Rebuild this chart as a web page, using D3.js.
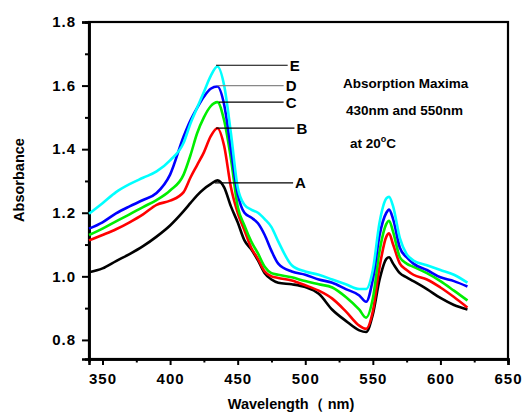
<!DOCTYPE html>
<html><head><meta charset="utf-8">
<script src="https://cdn.jsdelivr.net/npm/d3@7"></script>
<style>
body{margin:0;background:#fff;}
svg text{font-family:Arial,"Liberation Sans",sans-serif;}
</style></head>
<body><svg id="c" width="524" height="414"></svg>
<script>
const wavelengths = [340,350,360,370,380,390,400,410,415,420,425,430,435,440,445,450,455,460,465,470,475,480,490,500,510,520,530,540,545,550,555,560,562,565,570,575,580,590,600,610,620];
const seriesA = [1.013,1.025,1.048,1.07,1.095,1.125,1.16,1.205,1.23,1.255,1.275,1.29,1.302,1.28,1.22,1.17,1.113,1.085,1.05,1.01,0.99,0.98,0.975,0.966,0.945,0.895,0.86,0.83,0.825,0.88,0.99,1.055,1.06,1.04,1.01,0.997,0.985,0.96,0.932,0.91,0.896];
const seriesB = [1.113,1.13,1.148,1.17,1.195,1.225,1.238,1.265,1.31,1.35,1.39,1.44,1.466,1.41,1.28,1.2,1.145,1.09,1.055,1.015,1.0,0.995,0.987,0.972,0.955,0.93,0.89,0.845,0.835,0.89,1.03,1.125,1.135,1.1,1.04,1.02,1.005,0.99,0.965,0.935,0.902];
const seriesC = [1.13,1.15,1.173,1.195,1.218,1.24,1.27,1.32,1.38,1.45,1.5,1.535,1.548,1.49,1.37,1.22,1.16,1.11,1.072,1.03,1.01,1.005,0.997,0.985,0.975,0.965,0.935,0.895,0.87,0.93,1.08,1.165,1.175,1.14,1.06,1.04,1.03,1.01,0.985,0.955,0.924];
const seriesD = [1.15,1.17,1.198,1.22,1.24,1.262,1.32,1.44,1.49,1.53,1.565,1.59,1.597,1.54,1.4,1.26,1.2,1.185,1.167,1.13,1.08,1.04,1.015,1.005,0.99,0.98,0.96,0.94,0.92,0.99,1.13,1.2,1.21,1.18,1.09,1.06,1.04,1.02,0.997,0.985,0.968];
const seriesE = [1.197,1.23,1.265,1.29,1.31,1.33,1.365,1.42,1.48,1.53,1.58,1.63,1.66,1.6,1.45,1.28,1.225,1.21,1.2,1.18,1.155,1.11,1.035,1.015,1.005,0.99,0.975,0.96,0.96,1.02,1.17,1.245,1.25,1.22,1.12,1.07,1.05,1.035,1.02,1.005,0.98];
const seriesNames = ["A","B","C","D","E"];
const seriesColors = ["#000000","#ff0000","#00ee00","#0000ff","#00ffff"];
const xTicks = [350,400,450,500,550,600,650];
const xMinor = [375,425,475,525,575,625];
const yTicks = [0.8,1.0,1.2,1.4,1.6,1.8];
const yMinor = [0.9,1.1,1.3,1.5,1.7];
// label leader ends (wavelength, absorbance) for A..E
const labelW = [433,434,436,435,434];
const labelEndW = [491,492,484,484,487];
const labelY = [1.294,1.466,1.548,1.6,1.664];
const noteLines = ["Absorption Maxima","430nm and 550nm","at 20"];

const svg = d3.select("#c");
const x = d3.scaleLinear().domain([340,650]).range([89,508]);
const y = d3.scaleLinear().domain([0.74,1.8]).range([359,22]);

// frame
svg.append("rect").attr("x",89).attr("y",22).attr("width",419).attr("height",337)
  .attr("fill","none").attr("stroke","#000").attr("stroke-width",2.2);

const gx = svg.append("g").attr("transform","translate(0,359)")
  .call(d3.axisBottom(x).tickValues(xTicks).tickSize(6).tickPadding(8).tickFormat(d3.format("d")));
const gxm = svg.append("g").attr("transform","translate(0,359)")
  .call(d3.axisBottom(x).tickValues(xMinor).tickSize(3.5).tickFormat(""));
const gy = svg.append("g").attr("transform","translate(89,0)")
  .call(d3.axisLeft(y).tickValues(yTicks).tickSize(7).tickPadding(6).tickFormat(d3.format(".1f")));
const gym = svg.append("g").attr("transform","translate(89,0)")
  .call(d3.axisLeft(y).tickValues(yMinor).tickSize(4).tickFormat(""));
[gx,gxm,gy,gym].forEach(g=>{
  g.select(".domain").attr("stroke","#000").attr("stroke-width",2.5);
  g.selectAll(".tick line").attr("stroke","#000").attr("stroke-width",2);
  g.selectAll(".tick text").attr("fill","#000").style("font-size","15px")
   .style("font-weight","bold").style("letter-spacing","1px");
});

// series
const all = [seriesA,seriesB,seriesC,seriesD,seriesE];
const line = d3.line().x(d=>x(d[0])).y(d=>y(d[1])).curve(d3.curveMonotoneX);
all.forEach((s,i)=>{
  svg.append("path").datum(wavelengths.map((w,j)=>[w,s[j]]))
    .attr("fill","none").attr("stroke",seriesColors[i]).attr("stroke-width",2.6)
    .attr("stroke-linejoin","round").attr("d",line);
});

// leader labels
seriesNames.forEach((n,i)=>{
  svg.append("line").attr("x1",x(labelW[i])).attr("x2",x(labelEndW[i]))
    .attr("y1",y(labelY[i])).attr("y2",y(labelY[i]))
    .attr("stroke", n==="D" ? "#888" : "#000").attr("stroke-width",1.2);
  svg.append("text").attr("x",x(labelEndW[i])+2).attr("y",y(labelY[i])+5.5)
    .style("font-size","15px").style("font-weight","bold").text(n);
});

// note
const note = svg.append("g").style("font-size","13.5px").style("font-weight","bold");
note.append("text").attr("x",343).attr("y",88).text(noteLines[0]);
note.append("text").attr("x",346).attr("y",115).text(noteLines[1]);
const t3 = note.append("text").attr("x",350).attr("y",148).text(noteLines[2]);
t3.append("tspan").attr("dy",-6).style("font-size","9px").text("o");
t3.append("tspan").attr("dy",6).text("C");

// axis titles
svg.append("text").attr("transform","translate(24,180) rotate(-90)")
  .attr("text-anchor","middle").style("font-size","14.5px").style("font-weight","bold").text("Absorbance");
svg.append("text").attr("x",291).attr("y",409).attr("text-anchor","middle")
  .style("font-size","14.5px").style("font-weight","bold").text("Wavelength（ nm)");
</script></body></html>
